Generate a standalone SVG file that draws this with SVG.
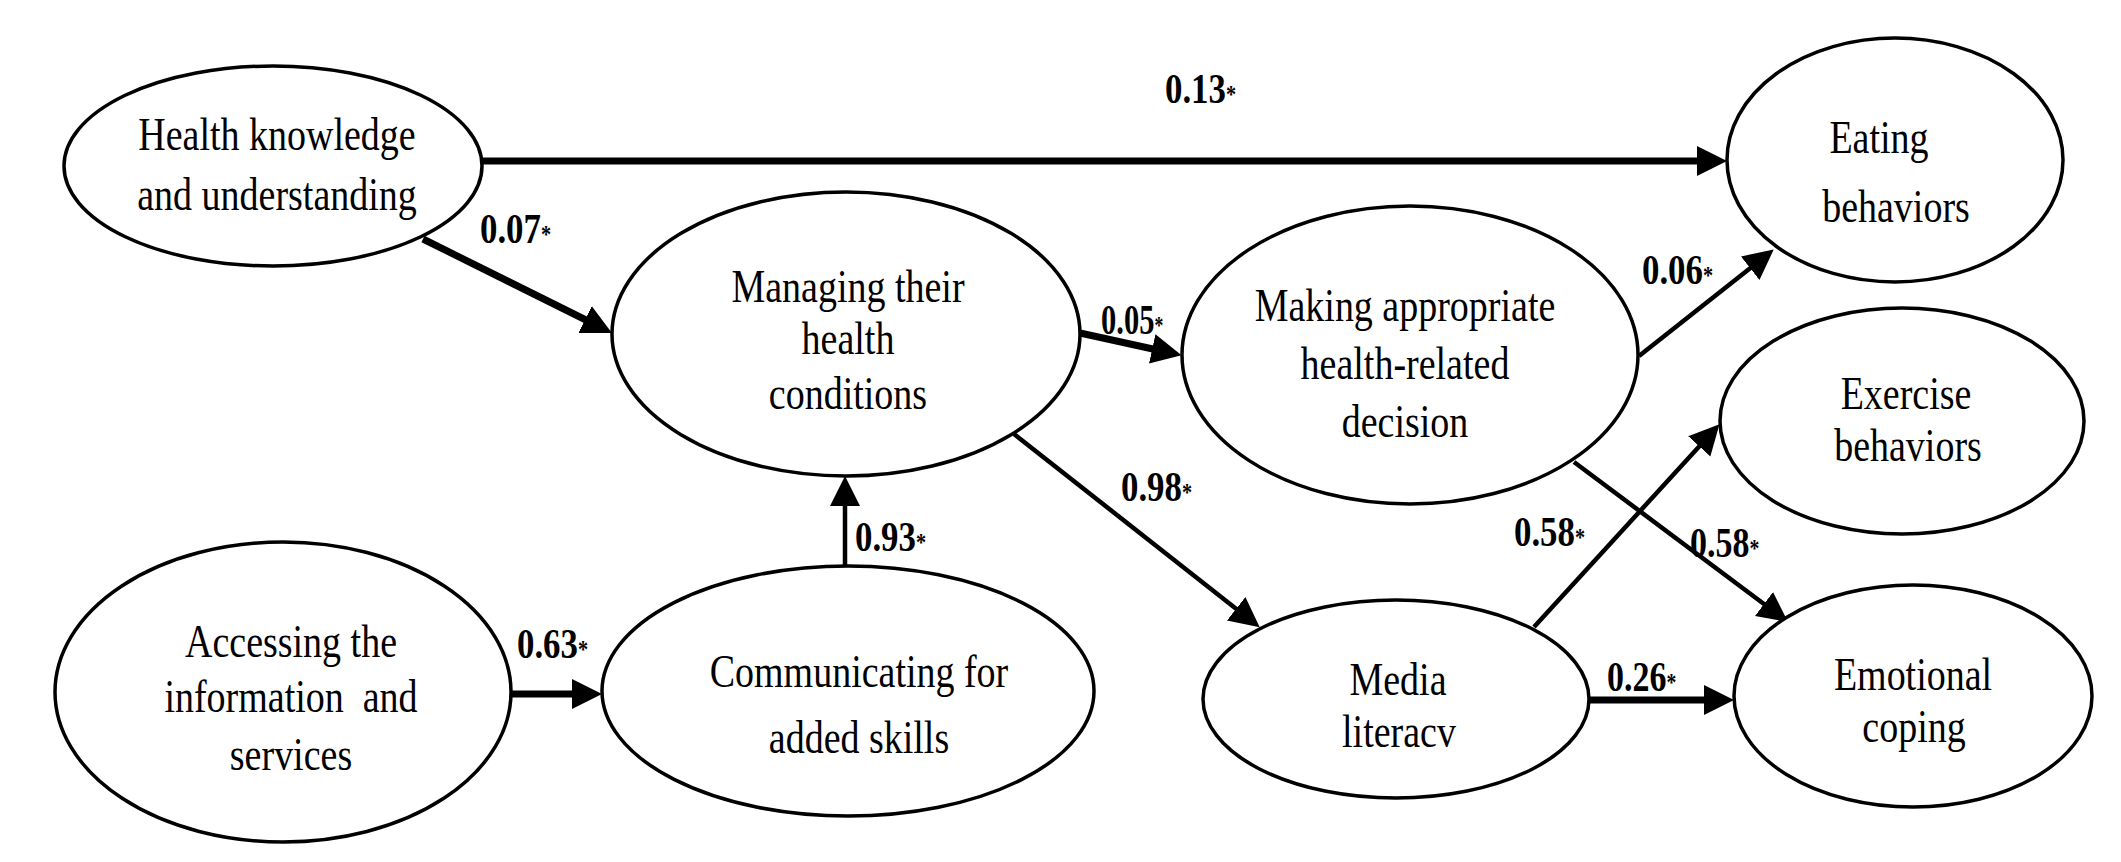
<svg xmlns="http://www.w3.org/2000/svg" width="2121" height="862" viewBox="0 0 2121 862">
<style>
.node ellipse{fill:#fff;stroke:#000;stroke-width:3.5}
.node text{font-family:"Liberation Serif","Times New Roman",serif;font-size:46px;fill:#000;text-anchor:middle}
.lbl{font-family:"Liberation Serif","Times New Roman",serif;font-size:43px;font-weight:bold;fill:#000}
.lbl tspan.s{font-size:25px}
.edges line{stroke:#000;fill:none}
.thick{stroke-width:7}
.mid{stroke-width:4.5}
</style>
<defs>
<marker id="ah" markerUnits="userSpaceOnUse" markerWidth="32" markerHeight="32" refX="10" refY="15" orient="auto">
<path d="M0,0 L30,15 L0,30 z" fill="#000"/>
</marker>
</defs>
<rect width="2121" height="862" fill="#fff"/>
<g id="connectors" class="edges">
<line class="thick" x1="481" y1="161" x2="1707" y2="161" marker-end="url(#ah)"/>
<line class="thick" x1="423" y1="239" x2="594" y2="324" marker-end="url(#ah)"/>
<line class="thick" x1="1080" y1="333" x2="1162" y2="351" marker-end="url(#ah)"/>
<line class="mid" x1="845" y1="566" x2="845" y2="496" marker-end="url(#ah)"/>
<line class="mid" x1="1014" y1="434" x2="1244" y2="615" marker-end="url(#ah)"/>
<line class="thick" x1="512" y1="694" x2="582" y2="694" marker-end="url(#ah)"/>
<line class="mid" x1="1639" y1="356" x2="1758" y2="262" marker-end="url(#ah)"/>
<line class="mid" x1="1534" y1="627" x2="1706" y2="439" marker-end="url(#ah)"/>
<line class="mid" x1="1574" y1="462" x2="1772" y2="610" marker-end="url(#ah)"/>
<line class="thick" x1="1589" y1="700" x2="1714" y2="700" marker-end="url(#ah)"/>
</g>
<g id="labels">
<text class="lbl" transform="translate(1165,103) scale(0.81,1)">0.13<tspan class="s">*</tspan></text>
<text class="lbl" transform="translate(480,243) scale(0.81,1)">0.07<tspan class="s">*</tspan></text>
<text class="lbl" transform="translate(1101,334) scale(0.71,1)">0.05<tspan class="s">*</tspan></text>
<text class="lbl" transform="translate(855,551) scale(0.81,1)">0.93<tspan class="s">*</tspan></text>
<text class="lbl" transform="translate(1121,501) scale(0.81,1)">0.98<tspan class="s">*</tspan></text>
<text class="lbl" transform="translate(517,658) scale(0.81,1)">0.63<tspan class="s">*</tspan></text>
<text class="lbl" transform="translate(1642,284) scale(0.81,1)">0.06<tspan class="s">*</tspan></text>
<text class="lbl" transform="translate(1514,546) scale(0.81,1)">0.58<tspan class="s">*</tspan></text>
<text class="lbl" transform="translate(1690,557) scale(0.79,1)">0.58<tspan class="s">*</tspan></text>
<text class="lbl" transform="translate(1607,691) scale(0.79,1)">0.26<tspan class="s">*</tspan></text>
</g>
<g id="n_health_knowledge" class="node">
<ellipse cx="273" cy="166" rx="209" ry="100"/>
<text transform="translate(277,150) scale(0.826,1)">Health knowledge</text>
<text transform="translate(277,210) scale(0.826,1)">and understanding</text>
</g>
<g id="n_managing" class="node">
<ellipse cx="846" cy="334" rx="234" ry="142"/>
<text transform="translate(848,302) scale(0.826,1)">Managing their</text>
<text transform="translate(848,354) scale(0.826,1)">health</text>
<text transform="translate(848,409) scale(0.826,1)">conditions</text>
</g>
<g id="n_making" class="node">
<ellipse cx="1410" cy="355" rx="228" ry="149"/>
<text transform="translate(1405,321) scale(0.826,1)">Making appropriate</text>
<text transform="translate(1405,379) scale(0.826,1)">health-related</text>
<text transform="translate(1405,437) scale(0.826,1)">decision</text>
</g>
<g id="n_eating" class="node">
<ellipse cx="1895" cy="160" rx="168" ry="122"/>
<text transform="translate(1879,153) scale(0.826,1)">Eating</text>
<text transform="translate(1896,222) scale(0.826,1)">behaviors</text>
</g>
<g id="n_exercise" class="node">
<ellipse cx="1902" cy="421" rx="182" ry="113"/>
<text transform="translate(1906,409) scale(0.826,1)">Exercise</text>
<text transform="translate(1908,461) scale(0.826,1)">behaviors</text>
</g>
<g id="n_emotional" class="node">
<ellipse cx="1913" cy="696" rx="179" ry="111"/>
<text transform="translate(1913,690) scale(0.826,1)">Emotional</text>
<text transform="translate(1914,742) scale(0.826,1)">coping</text>
</g>
<g id="n_media" class="node">
<ellipse cx="1396" cy="699" rx="193" ry="99"/>
<text transform="translate(1398,695) scale(0.826,1)">Media</text>
<text transform="translate(1399,747) scale(0.826,1)">literacv</text>
</g>
<g id="n_communicating" class="node">
<ellipse cx="848" cy="691" rx="246" ry="125"/>
<text transform="translate(859,687) scale(0.826,1)">Communicating for</text>
<text transform="translate(859,753) scale(0.826,1)">added skills</text>
</g>
<g id="n_accessing" class="node">
<ellipse cx="283" cy="692" rx="228" ry="150"/>
<text transform="translate(291,657) scale(0.826,1)">Accessing the</text>
<text transform="translate(291,712) scale(0.826,1)" xml:space="preserve">information  and</text>
<text transform="translate(291,770) scale(0.826,1)">services</text>
</g>
</svg>
